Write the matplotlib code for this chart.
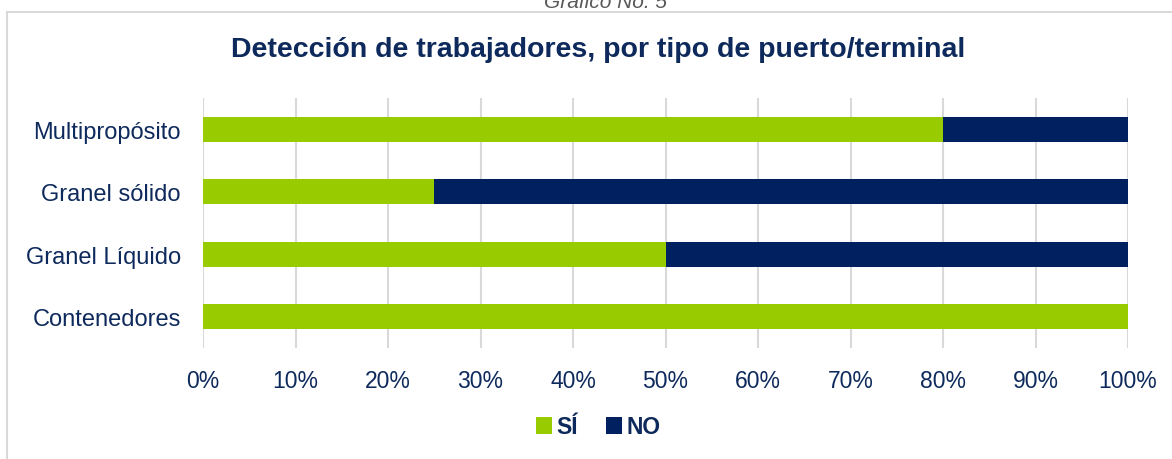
import matplotlib.pyplot as plt
from matplotlib.patches import Rectangle
from matplotlib.ticker import PercentFormatter

plt.rcParams['font.family'] = ['Liberation Sans', 'DejaVu Sans']

categories = ['Contenedores', 'Granel Líquido', 'Granel sólido', 'Multipropósito']
si_values = [100, 50, 25, 80]
no_values = [0, 50, 75, 20]

green = '#99CC00'
navy = '#002060'
text_color = '#0E2A5C'

fig = plt.figure(figsize=(11.72, 4.6), dpi=100)

# outer frame of the chart
fig.patches.append(Rectangle((7 / 1172, -0.05), 1.2, 1 - 13 / 460 + 0.05,
                             transform=fig.transFigure, fill=False,
                             edgecolor='#D9D9D9', linewidth=1.5))
fig.text(605 / 1172, 1 - 8 / 460, 'Gráfico No. 5', ha='center', va='baseline',
         fontsize=15, style='italic', color='#595959')

ax = fig.add_axes([203 / 1172, 1 - 349 / 460, (1128 - 203) / 1172, 250 / 460])

y = range(len(categories))
ax.barh(y, si_values, height=0.4, color=green, label='SÍ')
ax.barh(y, no_values, left=si_values, height=0.4, color=navy, label='NO')

ax.set_xlim(0, 100)
ax.set_ylim(-0.5, len(categories) - 0.5)
ax.set_xticks(range(0, 101, 10))
ax.xaxis.set_major_formatter(PercentFormatter(decimals=0))
ax.set_yticks(list(y))
ax.set_yticklabels(categories)
ax.grid(axis='x', color='#D9D9D9', linewidth=1.5)
ax.set_axisbelow(True)
for s in ax.spines.values():
    s.set_visible(False)
ax.tick_params(length=0, labelcolor=text_color)
ax.tick_params(axis='x', pad=15, labelsize=16.5)
ax.tick_params(axis='y', pad=16, labelsize=17)

fig.text(598 / 1172, 1 - 50 / 460, 'Detección de trabajadores, por tipo de puerto/terminal',
         ha='center', va='center', fontsize=20.5, fontweight='bold', color=text_color)

leg = fig.legend(loc='center', bbox_to_anchor=(598 / 1172, 1 - 428 / 460), ncol=2,
                 frameon=False, handlelength=0.7, handleheight=0.7,
                 handletextpad=0.2, columnspacing=1.2,
                 prop={'size': 16.5, 'weight': 'bold'})
for t in leg.get_texts():
    t.set_color(text_color)

fig.savefig('out.png', dpi=100)
